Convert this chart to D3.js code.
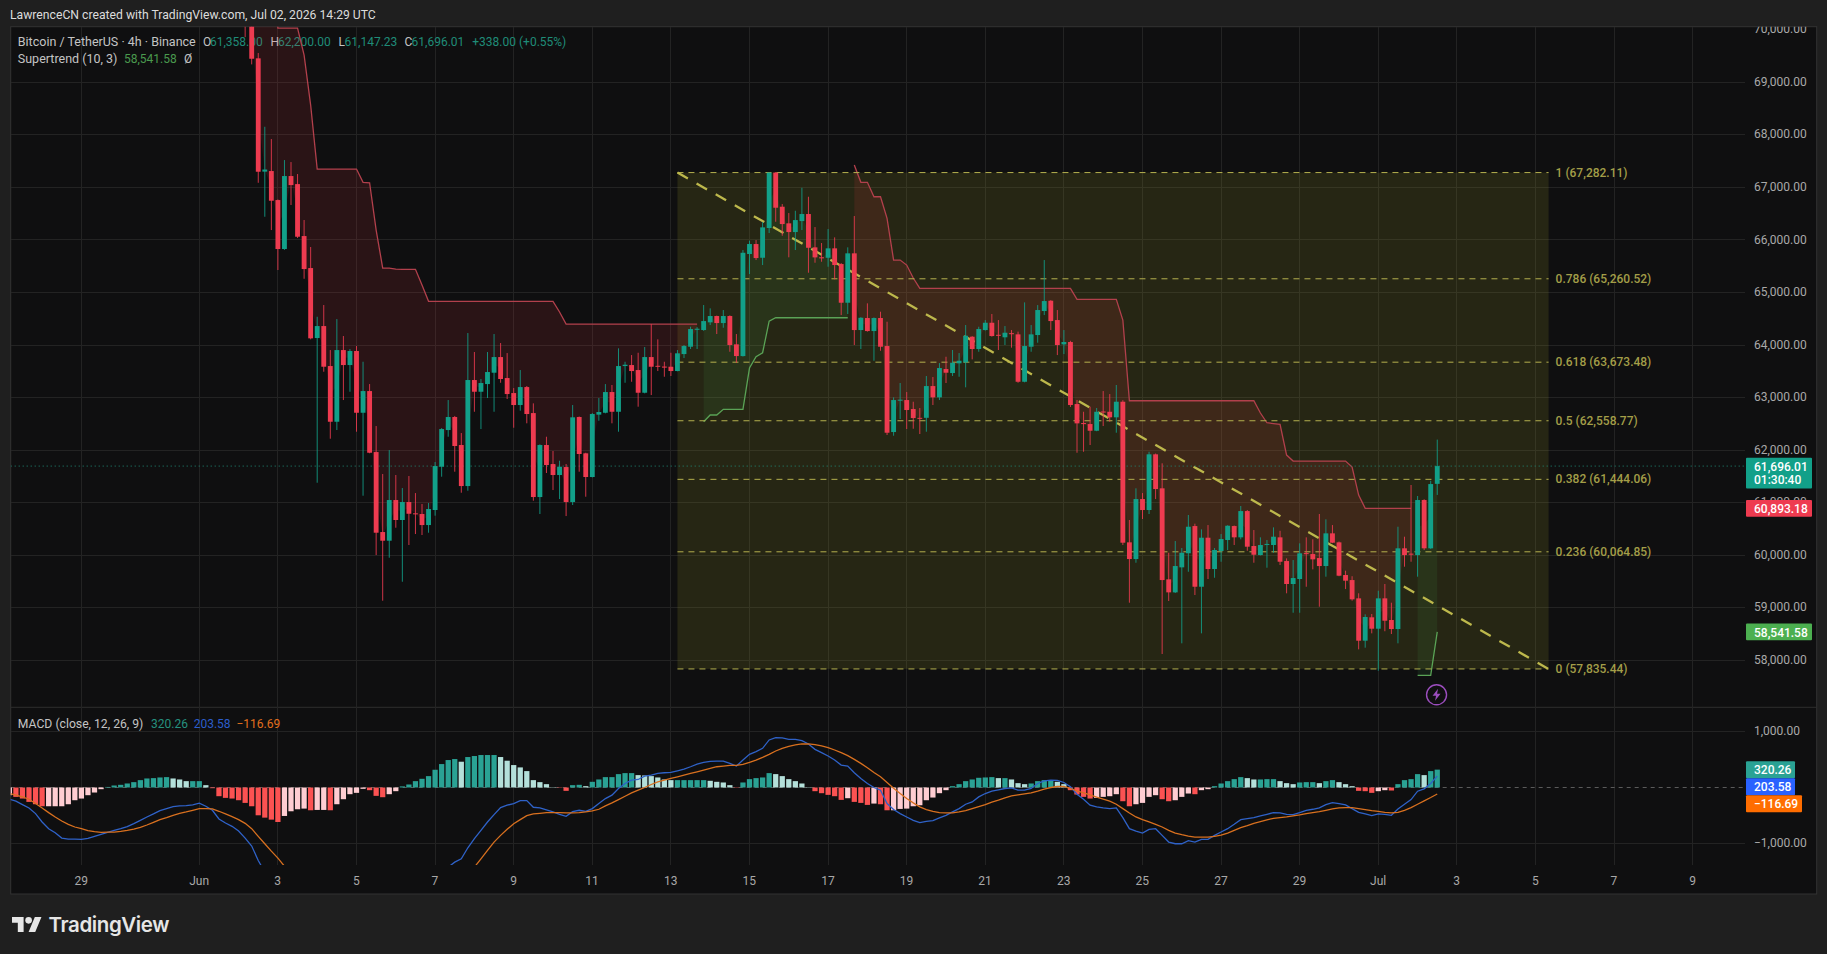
<!DOCTYPE html>
<html>
<head>
<meta charset="utf-8">
<title>BTCUSDT 4h</title>
<script src="https://cdn.jsdelivr.net/npm/d3@7"></script>
<style>
  html, body { margin: 0; padding: 0; background: #1f1f1f; }
  svg { display: block; }
  text { font-family: Roboto, "Liberation Sans", sans-serif; }
</style>
</head>
<body>
<script>
// Candles, 4h apart. The first one is Jun 2 04:00 UTC
var opens = [
  71200, 70600, 69456, 67300, 67311, 66759, 65827, 67216, 67063, 66074,
  65465, 64133, 64361, 63600, 62540, 63904, 63619, 63886, 62711, 63124,
  61963, 60441, 60276, 61050, 60670, 61012, 60797, 60784, 60574, 60860,
  61684, 62382, 62630, 62097, 61316, 63334, 63111, 63257, 63473, 63771,
  63372, 63086, 62858, 63200, 62705, 61107, 62097, 61735, 61526, 61678,
  61012, 62630, 61939, 61488, 62675, 62711, 63105, 62730, 63600, 63619,
  63524, 63092, 63771, 63605, 63590, 63587, 63505, 63828, 63968, 64290,
  64285, 64432, 64552, 64418, 64552, 64013, 63790, 65732, 65922, 65661,
  66227, 67282, 66632, 66316, 66150, 66359, 66493, 65859, 65670, 65661,
  65840, 65541, 64805, 65745, 64285, 64514, 64266, 64514, 63981, 62344,
  62950, 62953, 62782, 62615, 62615, 63219, 63004, 63543, 63467, 63652,
  63670, 64158, 63924, 64285, 64424, 64195, 64147, 64225, 64203, 63301,
  63968, 64190, 64647, 64843, 64475, 64013, 64057, 62877, 62515, 62496,
  62369, 62735, 62730, 62624, 62921, 60245, 59927, 61069, 60860, 61920,
  61273, 59541, 59293, 59769, 60037, 60555, 59400, 60333, 59737, 60080,
  60289, 60555, 60340, 60840, 60175, 60003, 60200, 60194, 60340, 59889,
  59452, 59547, 60040, 60022, 59946, 59794, 60416, 60245, 59623, 59527,
  59179, 58373, 58818, 58601, 59179, 58767, 58595, 60131, 60030, 60003,
  61050, 60131, 61358
];
var closes = [
  70600, 69448, 67298, 67340, 66746, 65827, 67216, 67044, 66061, 65446,
  64127, 64361, 63587, 62540, 63904, 63619, 63886, 62711, 63124, 61950,
  60428, 60276, 61050, 60670, 61012, 60789, 60780, 60574, 60879, 61697,
  62401, 62630, 62078, 61316, 63334, 63111, 63277, 63486, 63771, 63353,
  63067, 62858, 63200, 62687, 61107, 62097, 61716, 61526, 61684, 61012,
  62624, 61926, 61488, 62687, 62725, 63105, 62730, 63600, 63625, 63505,
  63092, 63771, 63587, 63590, 63570, 63505, 63842, 63981, 64304, 64310,
  64456, 64552, 64418, 64552, 64000, 63790, 65756, 65922, 65655, 66239,
  67282, 66613, 66302, 66150, 66378, 66493, 65851, 65668, 65650, 65840,
  65522, 64805, 65745, 64285, 64519, 64266, 64514, 63968, 62331, 62953,
  62960, 62763, 62610, 62600, 63219, 63004, 63562, 63473, 63663, 63701,
  64177, 63924, 64304, 64424, 64171, 64180, 64234, 64215, 63301, 63981,
  64203, 64666, 64837, 64456, 64000, 64057, 62858, 62509, 62495, 62369,
  62730, 62715, 62624, 62921, 60238, 59927, 61069, 60860, 61920, 61259,
  59527, 59293, 59794, 60047, 60542, 59400, 60333, 59737, 60099, 60308,
  60561, 60340, 60840, 60162, 60009, 60194, 60215, 60352, 59876, 59452,
  59566, 60036, 60020, 59921, 59794, 60416, 60238, 59610, 59515, 59160,
  58373, 58824, 58601, 59179, 58753, 58595, 60131, 60003, 60010, 61050,
  60131, 61354, 61696.01
];
var highs = [
  71300, 70800, 69557, 68154, 67920, 66770, 67520, 67482, 67254, 66379,
  65865, 64538, 64761, 63904, 64494, 64171, 63924, 63981, 63682, 63257,
  62458, 61545, 62001, 61526, 61278, 61507, 61183, 60974, 60993, 61773,
  62420, 62953, 62650, 62325, 64228, 63867, 63353, 63867, 64209, 64038,
  63847, 63181, 63524, 63220, 62890, 62110, 62255, 61983, 61798, 61735,
  62858, 62640, 61950, 62705, 62991, 63257, 63239, 63937, 63682, 63809,
  63853, 63962, 64399, 64108, 63682, 63853, 63905, 64000, 64348, 64340,
  64761, 64698, 64560, 64666, 64565, 64209, 65808, 65985, 65998, 66340,
  67282, 67290, 66683, 66512, 66555, 66993, 66822, 66245, 65941, 66207,
  66049, 65560, 65859, 66455, 64530, 64793, 64525, 64634, 64443, 63004,
  63277, 63105, 62921, 62801, 63410, 63391, 63657, 63777, 63905, 63847,
  64380, 64170, 64348, 64475, 64590, 64475, 64361, 64285, 64255, 64812,
  64380, 64760, 65617, 64855, 64666, 64285, 64080, 62953, 62730, 62826,
  62801, 63124, 63067, 63239, 62950, 60670, 61273, 61183, 61969, 61935,
  61749, 60047, 60270, 60137, 60765, 60600, 60492, 60574, 60137, 60403,
  60570, 60565, 60936, 60860, 60479, 60340, 60290, 60530, 60465, 59940,
  59908, 60226, 60340, 60302, 60784, 60683, 60574, 60260, 59705, 59600,
  59275, 58875, 58881, 59324, 59452, 59096, 60542, 60352, 61336, 61127,
  61065, 61417, 62200
];
var lows = [
  69860, 69341, 67088, 66441, 66188, 65427, 65810, 66664, 66036, 65261,
  64108, 61379, 63492, 62217, 62382, 62953, 63111, 62350, 61132, 61940,
  60003, 59134, 59952, 60523, 59495, 60194, 60403, 60384, 60428, 60752,
  61494, 62255, 61589, 61189, 61227, 62730, 62401, 62991, 62730, 63282,
  62972, 62426, 62750, 62510, 61037, 60784, 61564, 61240, 61069, 60745,
  60955, 61589, 61113, 61480, 62559, 62700, 62510, 62350, 63282, 63301,
  62826, 63080, 63048, 63505, 63396, 63410, 63500, 63752, 63924, 63924,
  64270, 64380, 64209, 64329, 63872, 63663, 63780, 65351, 65617, 65522,
  66131, 66346, 66080, 65669, 65808, 66188, 65376, 65566, 65585, 65490,
  65250, 64570, 64590, 64000, 63924, 64255, 63701, 63891, 62287, 62274,
  62592, 62401, 62407, 62306, 62350, 62858, 62953, 63277, 63410, 63396,
  63195, 63727, 63872, 64275, 64160, 63905, 64000, 63950, 63282, 63290,
  63872, 64044, 64570, 64285, 63809, 63828, 62820, 61950, 61969, 62097,
  62360, 62458, 62540, 62331, 60194, 59096, 59857, 60689, 60784, 61069,
  58120, 59128, 59280, 58323, 59685, 59242, 58513, 59547, 59571, 59876,
  60099, 60194, 60302, 60085, 59857, 59995, 59762, 60047, 59813, 59275,
  58905, 58905, 59400, 59731, 59020, 59591, 60230, 59600, 59356, 59134,
  58208, 58240, 58513, 57802, 58553, 58500, 58323, 59781, 59876, 59591,
  60099, 60120, 61147.23
];

// Supertrend, one value per candle. The runs say where it flips
var supertrend = [
  null, 71200, 71200, 71200, 71200, 70032, 70032, 70032, 70032, 69518,
  68567, 67349, 67349, 67349, 67349, 67349, 67349, 67349, 67096, 67088,
  66188, 65465, 65465, 65446, 65440, 65440, 65440, 65141, 64831, 64831,
  64831, 64831, 64831, 64831, 64831, 64831, 64831, 64831, 64831, 64831,
  64831, 64831, 64831, 64831, 64831, 64831, 64831, 64831, 64628, 64399,
  64399, 64399, 64399, 64399, 64399, 64399, 64399, 64399, 64399, 64399,
  64399, 64399, 64399, 64399, 64399, 64399, 64399, 64399, 64399, 64399,
  62540, 62668, 62668, 62776, 62776, 62776, 62776, 63562, 63777, 63853,
  64456, 64519, 64519, 64519, 64519, 64519, 64519, 64519, 64519, 64519,
  64519, 64519, 64519, 67425, 67096, 67096, 66822, 66822, 66411, 65617,
  65617, 65522, 65275, 65079, 65079, 65079, 65079, 65079, 65079, 65079,
  65079, 65079, 65079, 65079, 65079, 65079, 65079, 65079, 65079, 65079,
  65079, 65079, 65079, 65079, 65079, 65079, 65079, 64869, 64869, 64869,
  64869, 64869, 64869, 64869, 64475, 62940, 62940, 62940, 62940, 62940,
  62940, 62940, 62940, 62940, 62940, 62940, 62940, 62940, 62940, 62940,
  62940, 62940, 62940, 62940, 62940, 62706, 62521, 62506, 62491, 61906,
  61792, 61792, 61792, 61792, 61792, 61792, 61792, 61792, 61792, 61678,
  61145, 60893.18, 60893.18, 60893.18, 60893.18, 60893.18, 60893.18, 60893.18, 60893.18, 57715,
  57715, 57715, 58541.58
];
var trendRuns = [["down", 1, 69], ["up", 70, 92], ["down", 93, 178], ["up", 179, 182]];

// MACD pane, starts 37 bars before the first full candle
var histogram = [
  -138, -168, -198, -258, -300, -336, -336, -336, -336, -300,
  -228, -198, -138, -90, -30, 10, 36, 48, 72, 96,
  132, 162, 168, 180, 186, 162, 144, 114, 114, 114,
  42, -12, -156, -186, -198, -228, -276, -336, -498, -540,
  -576, -618, -510, -426, -390, -378, -408, -402, -402, -408,
  -300, -210, -120, -96, -24, -48, -150, -174, -120, -66,
  20, 54, 114, 156, 204, 318, 420, 492, 510, 462,
  546, 564, 582, 582, 582, 546, 480, 402, 360, 294,
  132, 96, 60, 6, -6, -60, 42, 48, 24, 102,
  144, 186, 186, 240, 258, 258, 222, 216, 204, 180,
  144, 132, 132, 132, 132, 132, 132, 120, 102, 90,
  42, -6, 90, 150, 168, 180, 258, 240, 204, 150,
  114, 72, 6, -66, -102, -132, -156, -222, -192, -258,
  -276, -312, -288, -300, -408, -408, -384, -378, -336, -318,
  -228, -180, -102, -48, 24, 60, 114, 144, 174, 180,
  186, 168, 168, 144, 78, 60, 72, 114, 132, 132,
  102, 60, -48, -126, -168, -198, -186, -168, -156, -120,
  -246, -336, -300, -276, -168, -138, -210, -246, -228, -168,
  -108, -120, -48, -30, 24, 72, 114, 150, 186, 168,
  144, 144, 150, 150, 114, 78, 60, 90, 96, 96,
  78, 114, 132, 96, 60, 24, -60, -66, -96, -66,
  -48, -54, 60, 132, 150, 240, 222, 294, 320.26
];
// null = below the pane, cannot be read from the picture
var macdLine = [
  -210, -246, -306, -366, -468, -618, -738, -810, -906, -924,
  -924, -930, -912, -876, -840, -804, -768, -738, -702, -648,
  -588, -528, -474, -414, -378, -342, -330, -324, -312, -282,
  -336, -408, -564, -636, -696, -780, -906, -1050, -1308, -1518,
  null, null, null, null, null, null, null, null, null, null,
  null, null, null, null, null, null, null, null, null, null,
  null, null, null, null, null, null, null,
  -1428, -1338, -1278, -1080, -918, -768, -618, -486, -360, -318,
  -288, -234, -234, -354, -366, -402, -438, -480, -516, -432,
  -408, -426, -378, -288, -198, -138, -18, 72, 132, 144,
  204, 222, 252, 264, 270, 300, 330, 372, 420, 450,
  468, 474, 474, 432, 384, 492, 594, 642, 702, 852,
  894, 888, 864, 864, 840, 780, 684, 624, 564, 492,
  402, 384, 264, 162, 72, 0, -48, -288, -396, -468,
  -528, -588, -630, -606, -594, -546, -498, -438, -378, -300,
  -258, -168, -108, -66, -42, -18, -6, -48, -48, -18,
  72, 120, 132, 126, 90, 12, -120, -210, -318, -348,
  -366, -378, -366, -540, -738, -780, -816, -750, -738, -858,
  -978, -1008, -1008, -954, -978, -930, -930, -858, -798, -738,
  -660, -576, -558, -540, -510, -480, -450, -456, -480, -486,
  -450, -408, -390, -366, -306, -270, -288, -312, -378, -444,
  -474, -504, -474, -480, -498, -384, -300, -216, -66, -24,
  72, 203.58
];
var signalLine = [
  -108, -138, -168, -210, -288, -366, -450, -528, -600, -660,
  -708, -738, -774, -792, -804, -798, -798, -786, -768, -744,
  -714, -672, -624, -576, -540, -498, -462, -438, -408, -378,
  -378, -384, -426, -474, -522, -576, -642, -738, -876, -1008,
  -1140, -1266, -1410,
  null, null, null, null, null, null, null, null, null, null,
  null, null, null, null, null, null, null, null, null, null,
  null, null, null, null, null, null, null, null,
  -1428, -1278, -1128, -978, -858, -750, -648,
  -576, -504, -474, -462, -450, -450, -450, -456, -456, -450,
  -438, -420, -390, -330, -276, -216, -156, -96, -48, 0,
  54, 102, 132, 162, 192, 222, 252, 282, 312, 342,
  372, 384, 396, 396, 414, 450, 492, 540, 594, 654,
  702, 738, 762, 780, 780, 768, 744, 714, 672, 624,
  570, 504, 432, 354, 270, 192, 90, -12, -108, -198,
  -276, -348, -396, -426, -450, -456, -456, -438, -414, -378,
  -342, -306, -264, -228, -186, -150, -132, -114, -96, -66,
  -30, 0, 18, 18, -18, -60, -96, -132, -174, -210,
  -246, -300, -378, -456, -528, -576, -618, -660, -708, -768,
  -816, -846, -870, -888, -888, -888, -876, -852, -816, -768,
  -720, -684, -642, -612, -582, -552, -540, -528, -510, -492,
  -468, -450, -432, -408, -384, -366, -360, -360, -378, -396,
  -414, -426, -444, -456, -444, -408, -360, -300, -240, -180,
  -116.69
];

// Fib retracement
var fibRatios = ["1", "0.786", "0.618", "0.5", "0.382", "0.236", "0"];
var fibPrices = [67282.11, 65260.52, 63673.48, 62558.77, 61444.06, 60064.85, 57835.44];

// Axis ticks
var priceTicks = [58000, 59000, 60000, 61000, 62000, 63000, 64000, 65000, 66000, 67000, 68000, 69000, 70000];
var macdTicks = [-1000, 1000];
var dateTicks = ["2026-05-29", "2026-06-01", "2026-06-03", "2026-06-05", "2026-06-07", "2026-06-09",
  "2026-06-11", "2026-06-13", "2026-06-15", "2026-06-17", "2026-06-19", "2026-06-21", "2026-06-23",
  "2026-06-25", "2026-06-27", "2026-06-29", "2026-07-01", "2026-07-03", "2026-07-05", "2026-07-07", "2026-07-09"];

var firstCandle = Date.UTC(2026, 5, 2, 4);
var firstMacdBar = Date.UTC(2026, 4, 27, 4);
var fourHours = 4 * 3600 * 1000;

var svgWidth = 1827;
var svgHeight = 954;
var pane = { left: 10.7, right: 1745, outer: 1816.7, top: 26.7, split: 707.3, macdBottom: 865, bottom: 894 };

var upColor = "#12a089";
var downColor = "#ee3b50";
var fibColor = "#b5b04e";
var fibText = "#a39e48";

var svg = d3.select("body").append("svg")
  .attr("width", svgWidth)
  .attr("height", svgHeight);

// Scales
var x = d3.scaleUtc()
  .domain([new Date(Date.UTC(2026, 5, 1)), new Date(Date.UTC(2026, 6, 1))])
  .range([199.3, 1378.3]);
var y = d3.scaleLinear().domain([58000, 69000]).range([660.3, 82.3]);
var yMacd = d3.scaleLinear().domain([-1000, 1000]).range([843.3, 731.7]);
var step = x(new Date(firstCandle + fourHours)) - x(new Date(firstCandle));
var bodyWidth = step * 0.74;

var candles = opens.map(function(o, i) {
  return {
    date: new Date(firstCandle + i * fourHours),
    o: o, h: highs[i], l: lows[i], c: closes[i],
    st: supertrend[i],
    mid: (o + closes[i]) / 2
  };
});
var macdBars = histogram.map(function(v, i) {
  return {
    date: new Date(firstMacdBar + i * fourHours),
    hist: v,
    prev: i > 0 ? histogram[i - 1] : v,
    macd: macdLine[i],
    signal: signalLine[i]
  };
});

// Clips
var defs = svg.append("defs");
defs.append("clipPath").attr("id", "clip-price").append("rect")
  .attr("x", pane.left).attr("y", pane.top)
  .attr("width", pane.right - pane.left).attr("height", pane.split - pane.top);
defs.append("clipPath").attr("id", "clip-macd").append("rect")
  .attr("x", pane.left).attr("y", pane.split)
  .attr("width", pane.right - pane.left).attr("height", pane.macdBottom - pane.split);
defs.append("clipPath").attr("id", "clip-axis").append("rect")
  .attr("x", pane.right).attr("y", pane.top)
  .attr("width", pane.outer - pane.right).attr("height", pane.split - pane.top);

// Background and frame
svg.append("rect").attr("width", svgWidth).attr("height", svgHeight).attr("fill", "#1f1f1f");
svg.append("rect")
  .attr("x", pane.left).attr("y", pane.top)
  .attr("width", pane.outer - pane.left).attr("height", pane.bottom - pane.top)
  .attr("fill", "#0f0f10")
  .attr("stroke", "#333333");
svg.append("line")
  .attr("x1", pane.left).attr("x2", pane.outer)
  .attr("y1", pane.split).attr("y2", pane.split)
  .attr("stroke", "#2e2e2e");

// Title
svg.append("text")
  .attr("x", 10).attr("y", 19)
  .attr("fill", "#dcdcdc")
  .style("font-size", "12.2px")
  .text("LawrenceCN created with TradingView.com, Jul 02, 2026 14:29 UTC");

// Grid
var grid = svg.append("g").attr("stroke", "#232323").attr("shape-rendering", "crispEdges");
var tickDates = dateTicks.map(function(d) { return new Date(d + "T00:00:00Z"); });
grid.selectAll(".vp").data(tickDates).enter().append("line")
  .attr("x1", function(d) { return x(d); }).attr("x2", function(d) { return x(d); })
  .attr("y1", pane.top).attr("y2", pane.split);
grid.selectAll(".vm").data(tickDates).enter().append("line")
  .attr("x1", function(d) { return x(d); }).attr("x2", function(d) { return x(d); })
  .attr("y1", pane.split).attr("y2", pane.macdBottom);
grid.selectAll(".hp").data(priceTicks.slice(0, 12)).enter().append("line")
  .attr("x1", pane.left).attr("x2", pane.right)
  .attr("y1", function(d) { return y(d); }).attr("y2", function(d) { return y(d); });
grid.selectAll(".hm").data(macdTicks).enter().append("line")
  .attr("x1", pane.left).attr("x2", pane.right)
  .attr("y1", function(d) { return yMacd(d); }).attr("y2", function(d) { return yMacd(d); });

// Legends sit under the candles here
function legendRow(row, rowY) {
  svg.append("g").selectAll("text").data(row).enter().append("text")
    .attr("x", function(d) { return d[1]; })
    .attr("y", rowY)
    .attr("fill", function(d) { return d[2]; })
    .style("font-size", function(d) { return d[3] || "12px"; })
    .text(function(d) { return d[0]; });
}
var legendGrey = "#c4c4c4";
var legendTeal = "#1f8c78";
legendRow([
  ["Bitcoin / TetherUS · 4h · Binance", 17.8, legendGrey, "12.5px"],
  ["O", 203, legendGrey], ["61,358.00", 210, legendTeal],
  ["H", 270.5, legendGrey], ["62,200.00", 278, legendTeal],
  ["L", 338.4, legendGrey], ["61,147.23", 344.6, legendTeal],
  ["C", 404.5, legendGrey], ["61,696.01", 411.6, legendTeal],
  ["+338.00 (+0.55%)", 472.3, legendTeal]
], 46);
legendRow([
  ["Supertrend (10, 3)", 17.8, legendGrey, "12.5px"],
  ["58,541.58", 124, "#4a9a4e"],
  ["Ø", 184, legendGrey]
], 63);
legendRow([
  ["MACD (close, 12, 26, 9)", 17.8, legendGrey, "12.2px"],
  ["320.26", 151, "#26917f"],
  ["203.58", 193.7, "#2c5ecb"],
  ["−116.69", 236.5, "#e36f1e"]
], 727.5);

var pricePane = svg.append("g").attr("clip-path", "url(#clip-price)");

// Fib box
var fibStart = new Date(Date.UTC(2026, 5, 13, 4));
var fibEnd = new Date(Date.UTC(2026, 6, 5, 8));
pricePane.append("rect")
  .attr("x", x(fibStart))
  .attr("y", y(fibPrices[0]))
  .attr("width", x(fibEnd) - x(fibStart))
  .attr("height", y(fibPrices[6]) - y(fibPrices[0]))
  .attr("fill", "rgba(150, 150, 40, 0.175)");

// Supertrend fill and line, one run at a time
var stArea = d3.area()
  .x(function(d) { return x(d.date); })
  .y0(function(d) { return y(d.st); })
  .y1(function(d) { return y(d.mid); });
var stLine = d3.line()
  .x(function(d) { return x(d.date); })
  .y(function(d) { return y(d.st); });
trendRuns.forEach(function(run) {
  var part = candles.slice(run[1], run[2] + 1);
  var isUp = run[0] == "up";
  pricePane.append("path").datum(part)
    .attr("d", stArea)
    .attr("fill", isUp ? "rgba(76, 175, 80, 0.11)" : "rgba(242, 54, 69, 0.12)");
  pricePane.append("path").datum(part)
    .attr("d", stLine)
    .attr("fill", "none")
    .attr("stroke", isUp ? "#5aa356" : "#b2404c")
    .attr("stroke-width", 1.3);
});

// Fib levels and the trend line
pricePane.selectAll(".fib").data(fibPrices).enter().append("line")
  .attr("x1", x(fibStart)).attr("x2", x(fibEnd))
  .attr("y1", function(d) { return y(d); }).attr("y2", function(d) { return y(d); })
  .attr("stroke", fibColor)
  .attr("stroke-dasharray", "6 5");
pricePane.append("line")
  .attr("x1", x(fibStart)).attr("y1", y(fibPrices[0]))
  .attr("x2", x(fibEnd)).attr("y2", y(fibPrices[6]))
  .attr("stroke", "#bdb84c")
  .attr("stroke-width", 2.3)
  .attr("stroke-dasharray", "12 10");
var priceFormat = d3.format(",.2f");
pricePane.selectAll(".fib-label").data(fibPrices).enter().append("text")
  .attr("x", x(fibEnd) + 7)
  .attr("y", function(d) { return y(d) + 4; })
  .attr("fill", fibText)
  .style("font-size", "12px")
  .style("font-weight", 500)
  .text(function(d, i) { return fibRatios[i] + " (" + priceFormat(d) + ")"; });

// Last price line
pricePane.append("line")
  .attr("x1", pane.left).attr("x2", pane.right)
  .attr("y1", y(closes[closes.length - 1])).attr("y2", y(closes[closes.length - 1]))
  .attr("stroke", "#1f8c78")
  .attr("stroke-dasharray", "1 3");

// Candles
function candleColor(d) { return d.c >= d.o ? upColor : downColor; }
pricePane.selectAll(".wick").data(candles).enter().append("line")
  .attr("x1", function(d) { return x(d.date); })
  .attr("x2", function(d) { return x(d.date); })
  .attr("y1", function(d) { return y(d.h); })
  .attr("y2", function(d) { return y(d.l); })
  .attr("stroke", candleColor)
  .attr("stroke-opacity", 0.85);
pricePane.selectAll(".body").data(candles).enter().append("rect")
  .attr("x", function(d) { return x(d.date) - bodyWidth / 2; })
  .attr("width", bodyWidth)
  .attr("y", function(d) { return Math.min(y(d.o), y(d.c)); })
  .attr("height", function(d) { return Math.max(Math.abs(y(d.o) - y(d.c)), 1); })
  .attr("fill", candleColor);

// Alert icon under the last candle
var lastX = x(candles[candles.length - 1].date);
var alertIcon = pricePane.append("g").attr("transform", "translate(" + (lastX - 0.7) + ",694.8)");
alertIcon.append("circle").attr("r", 10).attr("fill", "none").attr("stroke", "#9b4dbd").attr("stroke-width", 1.4);
alertIcon.append("path").attr("d", "M1.5 -6 L-4 1 L-0.5 1 L-1.5 6 L4 -1 L0.5 -1 Z").attr("fill", "#9b4dbd");

// MACD pane
var macdPane = svg.append("g").attr("clip-path", "url(#clip-macd)");
macdPane.append("line")
  .attr("x1", pane.left).attr("x2", pane.right)
  .attr("y1", yMacd(0)).attr("y2", yMacd(0))
  .attr("stroke", "#5a5a5a")
  .attr("stroke-dasharray", "4 4");
function histColor(d) {
  if (d.hist >= 0) return d.hist >= d.prev ? "#2aa294" : "#b4e0da";
  return d.hist < d.prev ? "#fb5252" : "#ffcdd2";
}
macdPane.selectAll(".hist").data(macdBars).enter().append("rect")
  .attr("x", function(d) { return x(d.date) - bodyWidth / 2 - 0.2; })
  .attr("width", bodyWidth + 0.4)
  .attr("y", function(d) { return Math.min(yMacd(d.hist), yMacd(0)); })
  .attr("height", function(d) { return Math.abs(yMacd(d.hist) - yMacd(0)); })
  .attr("fill", histColor);
function macdPath(key, color) {
  var line = d3.line()
    .defined(function(d) { return d[key] !== null; })
    .x(function(d) { return x(d.date); })
    .y(function(d) { return yMacd(d[key]); });
  macdPane.append("path").datum(macdBars)
    .attr("d", line)
    .attr("fill", "none")
    .attr("stroke", color)
    .attr("stroke-width", 1.3);
}
macdPath("macd", "#2f62c8");
macdPath("signal", "#d8701f");

// Axes
var tickColor = "#a9a9a9";
var priceAxis = svg.append("g")
  .attr("transform", "translate(1754,-0.7)")
  .call(d3.axisRight(y).tickValues(priceTicks).tickFormat(priceFormat).tickSize(0).tickPadding(0));
var macdAxis = svg.append("g")
  .attr("transform", "translate(1754,-0.7)")
  .call(d3.axisRight(yMacd).tickValues(macdTicks).tickFormat(priceFormat).tickSize(0).tickPadding(0));
var timeAxis = svg.append("g")
  .attr("transform", "translate(-0.7,876.5)")
  .call(d3.axisBottom(x).tickValues(tickDates).tickSize(0).tickPadding(0).tickFormat(function(d) {
    if (d.getUTCDate() == 1) return d3.utcFormat("%b")(d);
    return d.getUTCDate();
  }));
[priceAxis, macdAxis, timeAxis].forEach(function(axis) {
  axis.select(".domain").remove();
  axis.selectAll("text")
    .attr("fill", tickColor)
    .style("font-size", "12px")
    .style("font-family", "Roboto, sans-serif");
});
svg.append("g").attr("clip-path", "url(#clip-axis)").node().appendChild(priceAxis.node());

// Price tags on the axis
function tag(tagY, tagH, color, lines, width) {
  svg.append("rect")
    .attr("x", 1746).attr("y", tagY)
    .attr("width", width || 66).attr("height", tagH)
    .attr("rx", 1)
    .attr("fill", color);
  lines.forEach(function(t, i) {
    svg.append("text")
      .attr("x", 1754).attr("y", tagY + 13 + i * 13.5)
      .attr("fill", "#ffffff")
      .style("font-size", "12px")
      .style("font-weight", 500)
      .text(t);
  });
}
var lastClose = closes[closes.length - 1];
var lastSuper = supertrend[supertrend.length - 1];
tag(y(lastClose) - 8.3, 30.7, "#12a089", [priceFormat(lastClose), "01:30:40"]);
tag(y(60893.18) - 8.3, 16.7, "#ee3b50", [priceFormat(60893.18)]);
tag(y(lastSuper) - 8.3, 16.7, "#4caf50", [priceFormat(lastSuper)]);

var lastHist = histogram[histogram.length - 1];
var macdTagTop = yMacd(lastHist) - 8.4;
tag(macdTagTop, 17, "#2aa294", [d3.format(".2f")(lastHist)], 49);
tag(macdTagTop + 17, 17, "#2962ff", [d3.format(".2f")(macdLine[macdLine.length - 1])], 49);
tag(macdTagTop + 34, 17, "#ff6d00", [d3.format(".2f")(signalLine[signalLine.length - 1])], 56);

// Logo
var logo = svg.append("g").attr("transform", "translate(12,913.7) scale(0.83)").attr("fill", "#e6e6e6");
logo.append("path").attr("d", "M14 22H7V11H0V4h14v18zM28 22h-8l7.5-18h8L28 22z");
logo.append("circle").attr("cx", 20).attr("cy", 8).attr("r", 4);
svg.append("text")
  .attr("x", 48.5).attr("y", 932)
  .attr("fill", "#e6e6e6")
  .style("font-family", "Inter, Roboto, sans-serif")
  .style("font-size", "20.5px")
  .style("font-weight", 600)
  .style("letter-spacing", "-0.4px")
  .text("TradingView");
</script>
</body>
</html>
